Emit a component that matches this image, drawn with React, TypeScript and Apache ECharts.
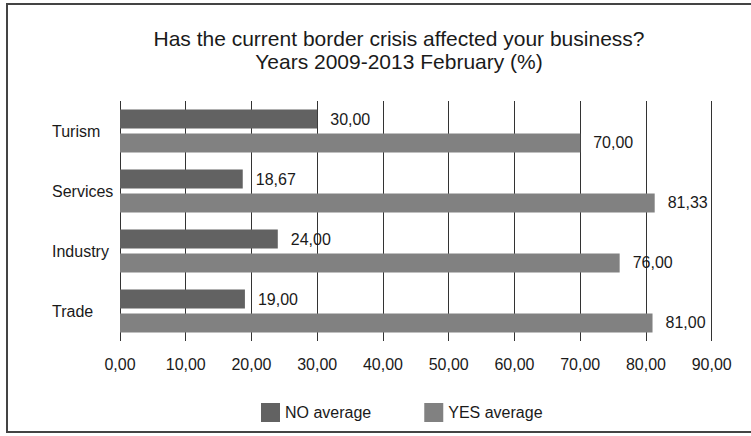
import React, { useEffect, useRef } from "react";
import * as echarts from "echarts";

const categories = ["Turism", "Services", "Industry", "Trade"];
const noAverage = [30.0, 18.67, 24.0, 19.0];
const yesAverage = [70.0, 81.33, 76.0, 81.0];
const seriesNames = ["NO average", "YES average"];
const titleLines = ["Has the current border crisis affected your business?", "Years 2009-2013 February (%)"];

const fmt = (v: number) => v.toFixed(2).replace(".", ",");
const FONT = "Liberation Sans, Arial, sans-serif";

export default function App() {
  const ref = useRef<HTMLDivElement>(null);
  useEffect(() => {
    if (!ref.current) return;
    const chart = echarts.init(ref.current, null, { renderer: "svg" });
    chart.setOption({
      animation: false,
      backgroundColor: "#ffffff",
      textStyle: { fontFamily: FONT },
      title: {
        text: titleLines.join("\n"),
        left: 394,
        textAlign: "center",
        top: 22,
        textStyle: { fontSize: 21, fontWeight: "normal", color: "#1a1a1a", lineHeight: 23, fontFamily: FONT },
      },
      graphic: [
        {
          type: "rect",
          shape: { x: 7, y: 4, width: 800, height: 428 },
          style: { fill: "none", stroke: "#444", lineWidth: 2 },
          silent: true,
        },
      ],
      legend: {
        left: 256,
        top: 398,
        itemWidth: 19,
        itemHeight: 19,
        itemGap: 53,
        icon: "rect",
        textStyle: { fontSize: 16, color: "#1a1a1a", fontFamily: FONT },
        data: seriesNames,
      },
      grid: { left: 120, top: 101, width: 591.7, height: 240 },
      xAxis: {
        type: "value",
        min: 0,
        max: 90,
        interval: 10,
        axisLine: { show: false },
        axisTick: { show: false },
        splitLine: { show: true, lineStyle: { color: "#333", width: 1 } },
        axisLabel: { formatter: (v: number) => fmt(v), fontSize: 16, color: "#1a1a1a", margin: 15, fontFamily: FONT },
      },
      yAxis: {
        type: "category",
        data: categories,
        inverse: true,
        axisLine: { show: false },
        axisTick: { show: false },
        axisLabel: { align: "left", margin: 68, fontSize: 16, color: "#1a1a1a", fontFamily: FONT },
      },
      series: [
        {
          name: seriesNames[0],
          type: "bar",
          data: noAverage,
          barWidth: 19,
          barGap: "26%",
          itemStyle: { color: "#626262" },
          label: { show: true, position: "right", distance: 13, formatter: (p: any) => fmt(p.value), fontSize: 16, color: "#1a1a1a", fontFamily: FONT },
        },
        {
          name: seriesNames[1],
          type: "bar",
          data: yesAverage,
          barWidth: 19,
          barGap: "26%",
          itemStyle: { color: "#818181" },
          label: { show: true, position: "right", distance: 13, formatter: (p: any) => fmt(p.value), fontSize: 16, color: "#1a1a1a", fontFamily: FONT },
        },
      ],
    });
    return () => chart.dispose();
  }, []);
  return <div ref={ref} style={{ position: "fixed", left: 0, top: 0, width: 751, height: 436 }} />;
}
